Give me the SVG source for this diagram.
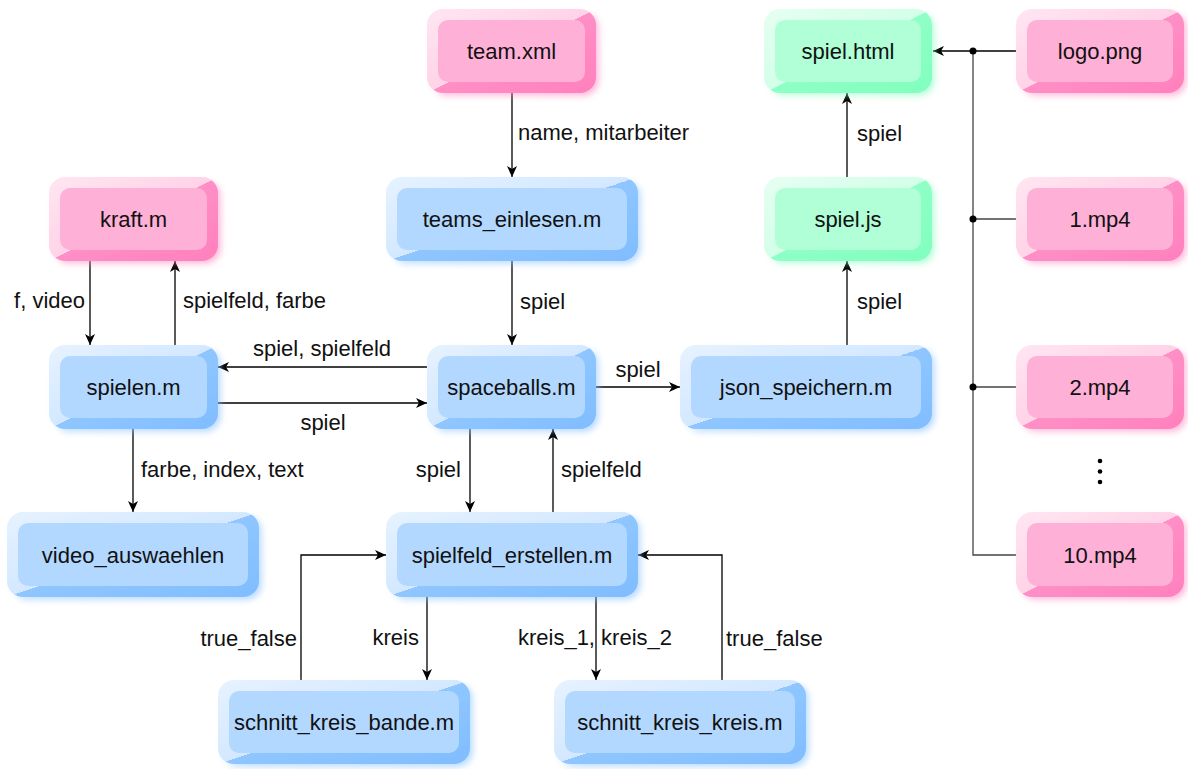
<svg xmlns="http://www.w3.org/2000/svg" width="1188" height="769" viewBox="0 0 1188 769">
<defs>
<linearGradient id="gp" x1="0" y1="0" x2="1" y2="1"><stop offset="0" stop-color="#ffe6f1"/><stop offset="0.5" stop-color="#ffd3e8"/><stop offset="0.5" stop-color="#ff8fc6"/><stop offset="1" stop-color="#ff80bd"/></linearGradient>
<linearGradient id="gb" x1="0" y1="0" x2="1" y2="1"><stop offset="0" stop-color="#e6f2ff"/><stop offset="0.5" stop-color="#d3e8ff"/><stop offset="0.5" stop-color="#8fc6ff"/><stop offset="1" stop-color="#80bdff"/></linearGradient>
<linearGradient id="gg" x1="0" y1="0" x2="1" y2="1"><stop offset="0" stop-color="#e6fff2"/><stop offset="0.5" stop-color="#d3ffe8"/><stop offset="0.5" stop-color="#8fffc6"/><stop offset="1" stop-color="#80ffbd"/></linearGradient>
<filter id="sh" x="-10%" y="-15%" width="125%" height="140%">
<feGaussianBlur in="SourceGraphic" stdDeviation="3" result="b"/>
<feOffset in="b" dx="3" dy="3" result="o"/>
<feComponentTransfer in="o" result="t"><feFuncA type="linear" slope="0.55"/></feComponentTransfer>
<feMerge><feMergeNode in="t"/><feMergeNode in="SourceGraphic"/></feMerge>
</filter>
<marker id="ar" markerUnits="userSpaceOnUse" markerWidth="12" markerHeight="12" viewBox="0 0 12 10" refX="11" refY="5" orient="auto"><path d="M0,0 L11,5 L0,10 L3,5 z" fill="#000"/></marker>
</defs>
<style>
text{font-family:"Liberation Sans",Arial,Helvetica,sans-serif;font-size:22px;fill:#111}
.n text{text-anchor:middle}
.o{filter:url(#sh)}
.pink .o{fill:url(#gp)} .pink .i{fill:#ffb0d7}
.blue .o{fill:url(#gb)} .blue .i{fill:#b3d8ff}
.green .o{fill:url(#gg)} .green .i{fill:#b0ffd6}
.e path{fill:none;stroke:#000;stroke-width:1.3}
.e path.a{marker-end:url(#ar)}
.e path.g{stroke:#444}
.s{text-anchor:start}.m{text-anchor:middle}.en{text-anchor:end}
</style>
<g id="connectors" class="e">
<path class="a" d="M512,93 V177"/>
<path class="a" d="M512,261 V345"/>
<path class="a" d="M90,261 V345"/>
<path class="a" d="M175,345 V261"/>
<path class="a" d="M133,429 V512"/>
<path class="a" d="M427,367 H218"/>
<path class="a" d="M218,403 H427"/>
<path class="a" d="M596,387 H680"/>
<path class="a" d="M847,345 V261"/>
<path class="a" d="M847,177 V93"/>
<path class="a" d="M470,429 V512"/>
<path class="a" d="M553,512 V429"/>
<path class="a" d="M427,597 V680"/>
<path class="a" d="M301,680 V555 H386"/>
<path class="a" d="M596,597 V680"/>
<path class="a" d="M722,680 V555 H638"/>
<path class="a" d="M1016,51 H933"/>
<path class="g" d="M973,51 V555 H1016 M1016,219 H973 M1016,387 H973"/>
<circle cx="973" cy="51" r="3.5"/>
<circle cx="973" cy="219" r="3.5"/>
<circle cx="973" cy="387" r="3.5"/>
<text class="s" x="518" y="140">name, mitarbeiter</text>
<text class="s" x="520" y="309">spiel</text>
<text class="en" x="85" y="308">f, video</text>
<text class="s" x="183" y="308">spielfeld, farbe</text>
<text class="m" x="322" y="356">spiel, spielfeld</text>
<text class="m" x="323" y="430">spiel</text>
<text class="m" x="638" y="377">spiel</text>
<text class="s" x="857" y="309">spiel</text>
<text class="s" x="857" y="141">spiel</text>
<text class="s" x="141" y="477">farbe, index, text</text>
<text class="en" x="461" y="477">spiel</text>
<text class="s" x="561" y="477">spielfeld</text>
<text class="en" x="419" y="645">kreis</text>
<text class="en" x="297" y="646">true_false</text>
<text class="m" x="595" y="645">kreis_1, kreis_2</text>
<text class="s" x="726" y="646">true_false</text>
</g>
<g id="n-team" class="n pink"><rect class="o" x="427" y="9" width="169" height="84" rx="16"/><rect class="i" x="438" y="20" width="147" height="62" rx="10"/><text x="511.5" y="59">team.xml</text></g>
<g id="n-spielhtml" class="n green"><rect class="o" x="764" y="9" width="168" height="84" rx="16"/><rect class="i" x="775" y="20" width="146" height="62" rx="10"/><text x="848" y="59">spiel.html</text></g>
<g id="n-logo" class="n pink"><rect class="o" x="1016" y="9" width="168" height="84" rx="16"/><rect class="i" x="1027" y="20" width="146" height="62" rx="10"/><text x="1100" y="59">logo.png</text></g>
<g id="n-kraft" class="n pink"><rect class="o" x="49" y="177" width="169" height="84" rx="16"/><rect class="i" x="60" y="188" width="147" height="62" rx="10"/><text x="133.5" y="227">kraft.m</text></g>
<g id="n-teams" class="n blue"><rect class="o" x="386" y="177" width="252" height="84" rx="16"/><rect class="i" x="397" y="188" width="230" height="62" rx="10"/><text x="512" y="227">teams_einlesen.m</text></g>
<g id="n-spieljs" class="n green"><rect class="o" x="764" y="177" width="168" height="84" rx="16"/><rect class="i" x="775" y="188" width="146" height="62" rx="10"/><text x="848" y="227">spiel.js</text></g>
<g id="n-mp1" class="n pink"><rect class="o" x="1016" y="177" width="168" height="84" rx="16"/><rect class="i" x="1027" y="188" width="146" height="62" rx="10"/><text x="1100" y="227">1.mp4</text></g>
<g id="n-spielen" class="n blue"><rect class="o" x="49" y="345" width="169" height="84" rx="16"/><rect class="i" x="60" y="356" width="147" height="62" rx="10"/><text x="133.5" y="395">spielen.m</text></g>
<g id="n-space" class="n blue"><rect class="o" x="427" y="345" width="169" height="84" rx="16"/><rect class="i" x="438" y="356" width="147" height="62" rx="10"/><text x="511.5" y="395">spaceballs.m</text></g>
<g id="n-json" class="n blue"><rect class="o" x="680" y="345" width="252" height="84" rx="16"/><rect class="i" x="691" y="356" width="230" height="62" rx="10"/><text x="806" y="395">json_speichern.m</text></g>
<g id="n-mp2" class="n pink"><rect class="o" x="1016" y="345" width="168" height="84" rx="16"/><rect class="i" x="1027" y="356" width="146" height="62" rx="10"/><text x="1100" y="395">2.mp4</text></g>
<g id="dots"><circle cx="1100" cy="461" r="2.3"/><circle cx="1100" cy="471.5" r="2.3"/><circle cx="1100" cy="482" r="2.3"/></g>
<g id="n-video" class="n blue"><rect class="o" x="7" y="512" width="252" height="85" rx="16"/><rect class="i" x="18" y="523" width="230" height="63" rx="10"/><text x="133" y="563">video_auswaehlen</text></g>
<g id="n-spielfeld" class="n blue"><rect class="o" x="386" y="512" width="252" height="85" rx="16"/><rect class="i" x="397" y="523" width="230" height="63" rx="10"/><text x="512" y="563">spielfeld_erstellen.m</text></g>
<g id="n-mp10" class="n pink"><rect class="o" x="1016" y="512" width="168" height="85" rx="16"/><rect class="i" x="1027" y="523" width="146" height="63" rx="10"/><text x="1100" y="563">10.mp4</text></g>
<g id="n-bande" class="n blue"><rect class="o" x="218" y="680" width="252" height="84" rx="16"/><rect class="i" x="229" y="691" width="230" height="62" rx="10"/><text x="344" y="730">schnitt_kreis_bande.m</text></g>
<g id="n-kreis" class="n blue"><rect class="o" x="554" y="680" width="252" height="84" rx="16"/><rect class="i" x="565" y="691" width="230" height="62" rx="10"/><text x="680" y="730">schnitt_kreis_kreis.m</text></g>
</svg>
